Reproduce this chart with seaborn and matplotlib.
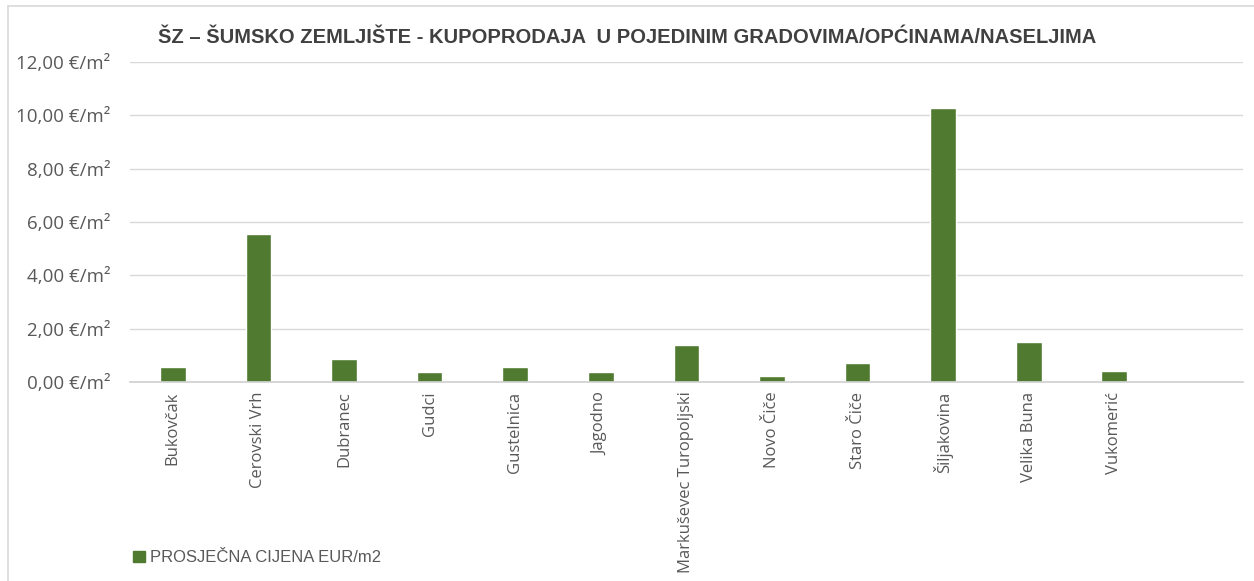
import pandas as pd
import numpy as np
import matplotlib
matplotlib.use("Agg")
import matplotlib.pyplot as plt
import seaborn as sns
from matplotlib.ticker import FuncFormatter, MultipleLocator
from matplotlib.lines import Line2D

# values
places = ['Bukovčak', 'Cerovski Vrh', 'Dubranec', 'Gudci', 'Gustelnica', 'Jagodno',
          'Markuševec Turopoljski', 'Novo Čiče', 'Staro Čiče', 'Šiljakovina',
          'Velika Buna', 'Vukomerić']
prices = [0.58, 5.55, 0.86, 0.37, 0.58, 0.37, 1.37, 0.21, 0.72, 10.28, 1.51, 0.40]
series_name = 'PROSJEČNA CIJENA EUR/m2'
title = 'ŠZ – ŠUMSKO ZEMLJIŠTE - KUPOPRODAJA  U POJEDINIM GRADOVIMA/OPĆINAMA/NASELJIMA'

df = pd.DataFrame({'place': places, 'price': prices})

sns.set_style('white')
plt.rcParams['font.family'] = ['Open Sans', 'DejaVu Sans']

green = '#507A30'
grey_txt = '#595959'

fig = plt.figure(figsize=(12.54, 5.81), dpi=100)
ax = fig.add_axes([0.1037, 0.3425, 0.8873, 0.5505])

sns.barplot(data=df, x='place', y='price', color=green, width=0.3,
            saturation=1, ax=ax)

ax.set_xlim(-0.5, 12.5)
ax.set_ylim(0, 12)
ax.yaxis.set_major_locator(MultipleLocator(2))
ax.yaxis.set_major_formatter(FuncFormatter(lambda v, p: f"{v:.2f}".replace('.', ',') + ' €/m²'))
ax.grid(axis='y', color='#d9d9d9', linewidth=1)
ax.set_axisbelow(True)
for s in ['top', 'right', 'left']:
    ax.spines[s].set_visible(False)
ax.spines['bottom'].set_color('#d0d0d0')
ax.spines['bottom'].set_linewidth(1.2)
ax.set_xlabel('')
ax.set_ylabel('')
ax.tick_params(axis='x', length=0, rotation=90, labelsize=12, colors=grey_txt, pad=7)
ax.tick_params(axis='y', length=0, labelsize=13.5, colors=grey_txt, pad=14)
for t in ax.get_xticklabels():
    t.set_va('top')

fig.text(0.5, 0.935, title, ha='center', va='center', fontsize=14.5,
         fontweight='bold', color='#404040', family=['Liberation Sans', 'DejaVu Sans'])

# legend at the bottom left
handles = [plt.Rectangle((0, 0), 1, 1, color=green)]
fig.legend(handles, [series_name], loc='center left', bbox_to_anchor=(0.094, 0.04),
           frameon=False, handlelength=0.7, handleheight=0.7,
           handletextpad=0.3, labelcolor=grey_txt,
           prop={'family': ['Liberation Sans', 'DejaVu Sans'], 'size': 12})

# chart area border
fig.add_artist(Line2D([0.0065, 0.0065], [0, 0.99], color='#d9d9d9', linewidth=1.2,
                      transform=fig.transFigure))
fig.add_artist(Line2D([0.0065, 1], [0.99, 0.99], color='#d9d9d9', linewidth=1.2,
                      transform=fig.transFigure))

fig.savefig('out.png', dpi=100)
